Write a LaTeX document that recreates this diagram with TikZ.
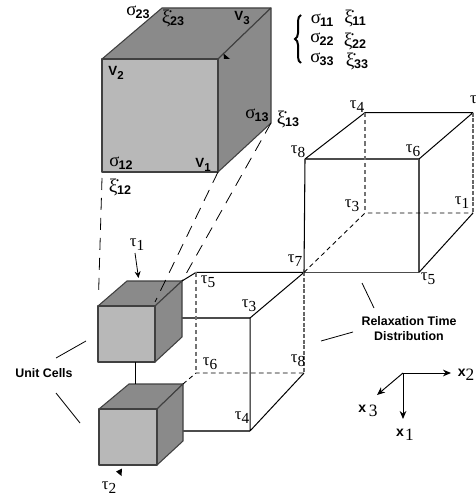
\documentclass[tikz,border=0pt]{standalone}
\usepackage{fontspec}
\setmainfont{Liberation Serif}
\newfontfamily\hv{Liberation Sans}
\usetikzlibrary{decorations.pathreplacing,arrows.meta}
\newcommand{\subb}[1]{\raisebox{-0.45ex}{\hv\bfseries\fontsize{9.4}{10}\selectfont #1}}
\newcommand{\sgm}[1]{{\fontsize{14}{15}\selectfont σ}\kern-0.6pt\subb{#1}}
\newcommand{\xid}[1]{{\fontsize{14.5}{15}\selectfont ξ̇}\kern-0.3pt\subb{#1}}
\newcommand{\tauu}[1]{{\fontsize{12.5}{13}\selectfont τ\raisebox{-0.55ex}{\fontsize{11.5}{12}\selectfont #1}}}
\newcommand{\vv}[1]{{\hv\bfseries\fontsize{10}{11}\selectfont V\raisebox{-0.45ex}{\fontsize{8.6}{9}\selectfont #1}}}
\newcommand{\xxx}[2]{{\hv\bfseries\fontsize{10.5}{11}\selectfont x\kern#2\raisebox{-0.6ex}{\rmfamily\mdseries\fontsize{13}{13}\selectfont #1}}}
\begin{document}
\begin{tikzpicture}[x=0.75pt,y=-0.75pt,
  lab/.style={inner sep=0pt,outer sep=0pt},
  bold/.style={lab,font={\hv\bfseries\fontsize{9.3}{11.3}\selectfont},align=center},
  front/.style={draw=black!75,line width=0.8pt,fill=black!28,line join=round},
  side/.style={draw=black!75,line width=0.8pt,fill=black!46,line join=round},
  wire/.style={line width=0.75pt,black},
  gwire/.style={line width=0.9pt,black!70},
  hid/.style={line width=0.65pt,black,dash pattern=on 3.4pt off 2.6pt},
  ghid/.style={line width=0.85pt,black!60,dash pattern=on 3pt off 1.2pt},
  vhid/.style={line width=0.8pt,black!55,dash pattern=on 3.2pt off 2.2pt},
  link/.style={line width=0.6pt,black,dash pattern=on 9pt off 6pt},
  lead/.style={line width=0.6pt,black},
  tip/.style={fill=black,draw=none},
  axis/.style={line width=0.7pt,black,-{Stealth[length=6pt,width=5pt]}}]
\useasboundingbox (0,0) rectangle (475,498);
% big cube
\coordinate (ba) at (102,59);\coordinate (bb) at (218,59);\coordinate (bc) at (218,172);\coordinate (bd) at (102,172);
\coordinate (be) at (162,8);\coordinate (bf) at (271,8);\coordinate (bg) at (271,123);
\filldraw[side] (ba)--(be)--(bf)--(bb)--cycle;
\filldraw[side] (bb)--(bf)--(bg)--(bc)--cycle;
\filldraw[front] (ba)--(bb)--(bc)--(bd)--cycle;
% small cube 1
\coordinate (pa) at (98,306);\coordinate (pb) at (155,306);\coordinate (pc) at (155,362);\coordinate (pd) at (98,362);
\coordinate (pe) at (127,281);\coordinate (pf) at (182,281);\coordinate (pg) at (182,337);
\filldraw[side] (pa)--(pe)--(pf)--(pb)--cycle;
\filldraw[side] (pb)--(pf)--(pg)--(pc)--cycle;
\filldraw[front] (pa)--(pb)--(pc)--(pd)--cycle;
% small cube 2
\coordinate (qa) at (99,409);\coordinate (qb) at (157,409);\coordinate (qc) at (157,465);\coordinate (qd) at (99,465);
\coordinate (qe) at (129,384);\coordinate (qf) at (183,384);\coordinate (qg) at (183,441);
\filldraw[side] (qa)--(qe)--(qf)--(qb)--cycle;
\filldraw[side] (qb)--(qf)--(qg)--(qc)--cycle;
\filldraw[front] (qa)--(qb)--(qc)--(qd)--cycle;
\coordinate (wa) at (135,362);\coordinate (wb) at (135,384);
\draw[wire] (wa)--(wb);
% lower wire box
\coordinate (la) at (196,272.4);\coordinate (lb) at (304,272.4);\coordinate (lc) at (196,373);\coordinate (ld) at (304,373);
\coordinate (le) at (182,318);\coordinate (lf) at (250,318);\coordinate (lg) at (183,431);\coordinate (lh) at (250,431);
\draw[wire] (pf)--(la)--(lb);
\draw[gwire] (le)--(lf) (lg)--(lh);
\draw[wire] (lf)--(lb) (lf)--(lh) (lh)--(ld);
\draw[vhid] (la)--(lc);
\draw[hid] (qf)--(lc)--(ld);
\draw[ghid] (lb)--(ld);
% upper wire box
\coordinate (ua) at (305,159);\coordinate (ub) at (419,159);\coordinate (uc) at (419,272.4);
\coordinate (ud) at (365,112.6);\coordinate (ue) at (473,112.6);\coordinate (uf) at (365,213);\coordinate (ug) at (473,213);
\draw[wire,line width=0.8pt] (lb)--(ua);
\draw[gwire] (ua)--(ub) (ub)--(uc) (lb)--(uc);
\draw[wire] (ua)--(ud)--(ue) (ub)--(ue) (uc)--(ug);
\draw[vhid] (ud)--(uf);
\draw[hid] (lb)--(uf)--(ug);
\draw[ghid] (ue)--(ug);
% dashed links
\coordinate (ka) at (102,178);\coordinate (kb) at (98.5,296);\coordinate (kc) at (155,302);
\draw[link] (ka)--(kb);
\draw[link] (bc)--(kc);
\draw[link] (bg)--(pf);
% arrows and ticks
\filldraw[tip] (223.5,53.5)--(230,59)--(224,59)--cycle;
\filldraw[tip] (122,468.5)--(116,471.5)--(121.5,476)--cycle;
\coordinate (ta) at (135,253);\coordinate (tb) at (138.5,278);
\draw[line width=0.6pt,-{Stealth[length=5pt,width=4.5pt]}] (ta)--(tb);
\coordinate (c1) at (56,358);\coordinate (c2) at (86,341);\coordinate (c3) at (56,393);\coordinate (c4) at (80,423);
\draw[lead] (c1)--(c2) (c3)--(c4);
\coordinate (r1) at (362,283);\coordinate (r2) at (374,308);\coordinate (r3) at (321,341);\coordinate (r4) at (353,332);
\draw[lead] (r1)--(r2) (r3)--(r4);
\coordinate (o) at (403,373);\coordinate (o2) at (451,373);\coordinate (o3) at (377,395);\coordinate (o1) at (403,419);
\draw[axis] (o)--(o2);\draw[axis] (o)--(o3);\draw[axis] (o)--(o1);
% brace
\coordinate (br1) at (301,15);\coordinate (br2) at (301,63);
\draw[line width=1.5pt,decorate,decoration={brace,amplitude=4.5pt}] (br2)--(br1);
% labels
\node[lab] (s23) at (138,12) {\sgm{23}};
\node[lab] (x23) at (173,18) {\xid{23}};
\node[lab] (v3) at (242,18) {\vv{3}};
\node[lab] (v2) at (116,73) {\vv{2}};
\node[lab] (v1) at (203,165) {\vv{1}};
\node[lab] (s13) at (257,115) {\sgm{13}};
\node[lab] (x13) at (288,119) {\xid{13}};
\node[lab] (s12) at (121,163) {\sgm{12}};
\node[lab] (x12) at (120,187) {\xid{12}};
\node[lab] (s11) at (322,20) {\sgm{11}};
\node[lab] (s22) at (322,39) {\sgm{22}};
\node[lab] (s33) at (322,59) {\sgm{33}};
\node[lab] (x11) at (355,18) {\xid{11}};
\node[lab] (x22) at (355,41) {\xid{22}};
\node[lab] (x33) at (357,61) {\xid{33}};
\node[lab] (t4u) at (357,107) {\tauu{4}};
\node[lab,anchor=west] (ttr) at (470,102) {\tauu{}};
\node[lab] (t8u) at (298,152) {\tauu{8}};
\node[lab] (t6u) at (413,151) {\tauu{6}};
\node[lab] (t3u) at (352,206) {\tauu{3}};
\node[lab] (t1u) at (462,203) {\tauu{1}};
\node[lab] (t7) at (295,261) {\tauu{7}};
\node[lab] (t5u) at (428,279) {\tauu{5}};
\node[lab] (t1l) at (137,245) {\tauu{1}};
\node[lab] (t5l) at (208,282) {\tauu{5}};
\node[lab] (t3l) at (249,306) {\tauu{3}};
\node[lab] (t6l) at (210,364) {\tauu{6}};
\node[lab] (t8l) at (298,361) {\tauu{8}};
\node[lab] (t4l) at (242,418) {\tauu{4}};
\node[lab] (t2l) at (109,488) {\tauu{2}};
\node[bold] (ucl) at (44,373) {Unit Cells};
\node[bold] (rtd) at (409,329) {Relaxation Time\\Distribution};
\node[lab] (xb) at (466,375) {\xxx{2}{0pt}};
\node[lab] (xc) at (368,411) {\xxx{3}{2pt}};
\node[lab] (xa) at (405,435) {\xxx{1}{1pt}};
\end{tikzpicture}
\end{document}
